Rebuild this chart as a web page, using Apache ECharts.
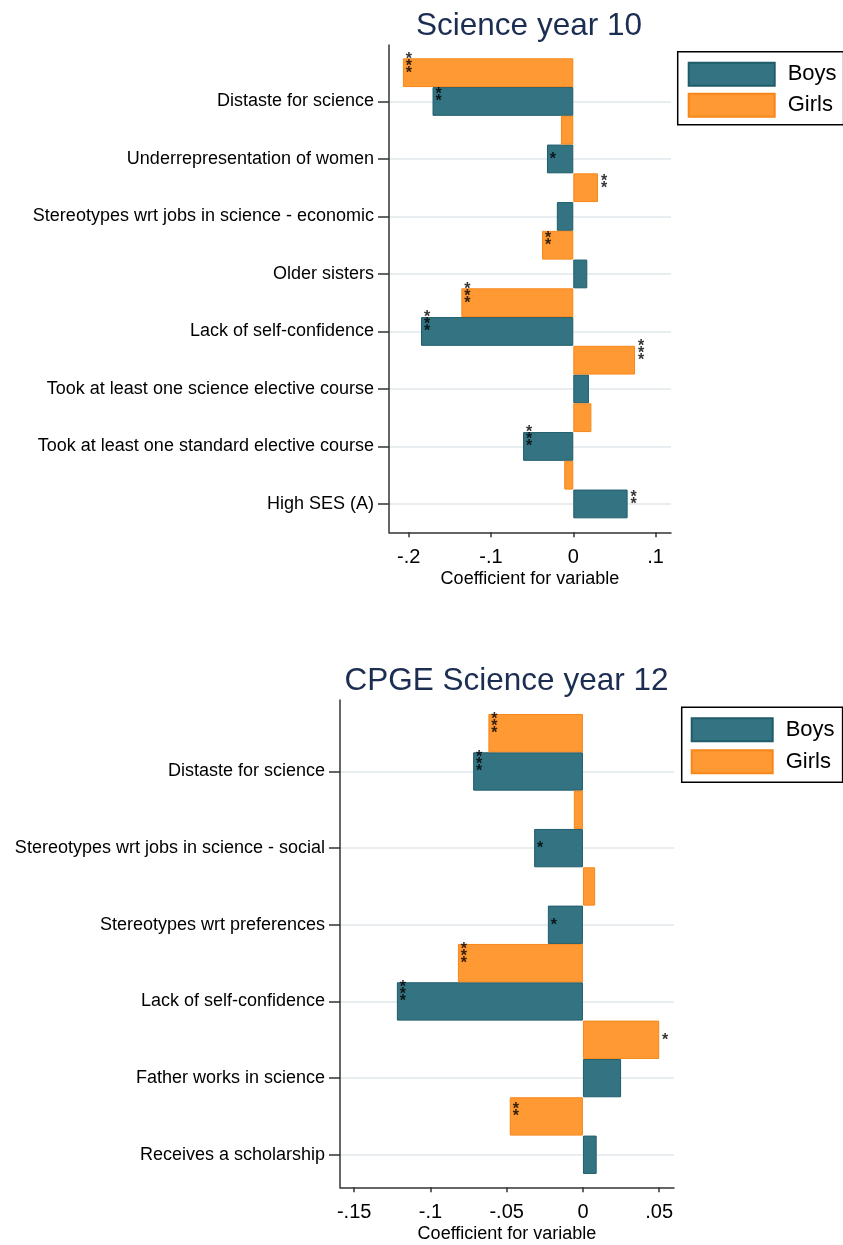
<!DOCTYPE html>
<html>
<head>
<meta charset="utf-8">
<script src="https://cdn.jsdelivr.net/npm/echarts@6/dist/echarts.min.js"></script>
<style>
html,body{margin:0;padding:0;background:#fff;}
#c{width:843px;height:1245px;}
</style>
</head>
<body>
<div id="c"></div>
<script>
// ---------- DATA ----------
const topTitle = 'Science year 10';
const topCategories = ['Distaste for science','Underrepresentation of women','Stereotypes wrt jobs in science - economic','Older sisters','Lack of self-confidence','Took at least one science elective course','Took at least one standard elective course','High SES (A)'];
const topBoys  = [-0.171,-0.032,-0.020, 0.017,-0.185, 0.019,-0.061, 0.066];
const topGirls = [-0.207,-0.015, 0.030,-0.038,-0.136, 0.075, 0.022,-0.011];
const topBoysStars  = ['**','*','','','***','','***','**'];
const topGirlsStars = ['***','','**','**','***','***','',''];
const topTickValues = [-0.2,-0.1,0,0.1];
const topTickLabels = ['-.2','-.1','0','.1'];

const botTitle = 'CPGE Science year 12';
const botCategories = ['Distaste for science','Stereotypes wrt jobs in science - social','Stereotypes wrt preferences','Lack of self-confidence','Father works in science','Receives a scholarship'];
const botBoys  = [-0.072,-0.032,-0.023,-0.122, 0.025, 0.009];
const botGirls = [-0.062,-0.006, 0.008,-0.082, 0.050,-0.048];
const botBoysStars  = ['***','*','*','***','',''];
const botGirlsStars = ['***','','','***','*','**'];
const botTickValues = [-0.15,-0.1,-0.05,0,0.05];
const botTickLabels = ['-.15','-.1','-.05','0','.05'];

const seriesNames = ['Boys','Girls'];
const axisTitle = 'Coefficient for variable';

// ---------- STYLE ----------
const FONT = '"Liberation Sans", Arial, Helvetica, sans-serif';
const TEAL = '#347482', TEAL_B = '#1f5c6a';
const ORANGE = '#fe9933', ORANGE_B = '#f7871a';
const AXIS = '#333333';
const GRIDC = '#e8eef0';

// slot layout: [pad, g0, b0, g1, b1, ..., pad]
function slots(n){ const s=[]; s.push('pad0'); for(let i=0;i<n;i++){s.push('g'+i); s.push('b'+i);} s.push('pad1'); return s; }
function boysArr(vals){ const a=new Array(vals.length*2+2).fill(null); vals.forEach((v,i)=>a[2+2*i]=v); return a; }
function girlsArr(vals){ const a=new Array(vals.length*2+2).fill(null); vals.forEach((v,i)=>a[1+2*i]=v); return a; }
function starData(bv,bs,gv,gs){
  const d=[];
  bv.forEach((v,i)=>{ if(bs[i]) d.push([v,2+2*i,bs[i]]); });
  gv.forEach((v,i)=>{ if(gs[i]) d.push([v,1+2*i,gs[i]]); });
  return d;
}
function isBoySlot(idx,n){ return idx>=2 && idx<=2*n && idx%2===0; }

function tickFmt(values, labels){ return function(v){ const i=values.findIndex(t=>Math.abs(t-v)<1e-9); return i>=0?labels[i]:''; }; }

const chart = echarts.init(document.getElementById('c'), null, {renderer:'canvas'});

const grids = [
  {left:389, width:282, top:45, height:487.3},           // top outer
  {left:389, width:282, top:43.95, height:488.75},       // top bars (18 cats, boundaryGap false)
  {left:340, width:334, top:700, height:487.3},          // bottom outer
  {left:340, width:334, top:694.8, height:498.3}         // bottom bars
];

function outerX(gi, min, max, vals, labs){
  return {
    type:'value', gridIndex:gi, min:min, max:max, position:'bottom',
    axisLine:{show:true, onZero:false, lineStyle:{color:AXIS, width:1.5}},
    axisTick:{show:true, length:5, customValues:vals, lineStyle:{color:AXIS, width:1.5}},
    axisLabel:{show:true, customValues:vals, formatter:tickFmt(vals,labs), fontFamily:FONT, fontSize:20, color:'#000', margin:15},
    splitLine:{show:false},
    name:axisTitle, nameLocation:'middle', nameGap:38,
    nameTextStyle:{fontFamily:FONT, fontSize:18, color:'#000'}
  };
}
function hiddenX(gi,min,max){ return {type:'value', gridIndex:gi, min:min, max:max, show:false}; }
function outerY(gi){
  return {type:'value', gridIndex:gi, min:0, max:1, position:'left',
    axisLine:{show:true, onZero:false, lineStyle:{color:AXIS, width:1.5}},
    axisTick:{show:false}, axisLabel:{show:false}, splitLine:{show:false}};
}
function catY(gi, cats){
  const n=cats.length;
  return {
    type:'category', gridIndex:gi, data:slots(n), inverse:true, boundaryGap:false, position:'left',
    axisLine:{show:false, onZero:false},
    axisTick:{show:true, length:11, interval:(idx)=>isBoySlot(idx,n), lineStyle:{color:AXIS, width:1.5}},
    axisLabel:{show:true, interval:(idx)=>isBoySlot(idx,n), margin:15,
      formatter:(v,idx)=> isBoySlot(idx,n)? cats[(idx-2)/2] : '',
      fontFamily:FONT, fontSize:18, color:'#000'},
    splitLine:{show:true, interval:(idx)=>isBoySlot(idx,n), lineStyle:{color:GRIDC, width:2}}
  };
}

function barSeries(name, xi, yi, data, color, border){
  return {type:'bar', name:name, xAxisIndex:xi, yAxisIndex:yi, data:data,
    barWidth:'100%', barGap:'-100%', barCategoryGap:0,
    itemStyle:{color:color, borderColor:border, borderWidth:1}, z:3};
}
function starSeries(xi, yi, data){
  return {type:'scatter', xAxisIndex:xi, yAxisIndex:yi, data:data, symbolSize:0.1,
    itemStyle:{color:'transparent'}, z:5,
    label:{show:true, position:'inside', align:'center', verticalAlign:'bottom', offset:[6,4],
      formatter:(p)=>p.data[2].split('').join('\n'), fontFamily:FONT, fontSize:16, fontWeight:'bold', lineHeight:7, color:'#000'}};
}

function legend(left, top, iw, ih, gap, pad, textPad){
  return {data:seriesNames, orient:'vertical', left:left, top:top, itemWidth:iw, itemHeight:ih, itemGap:gap,
    padding:pad, borderColor:'#000', borderWidth:1.5, backgroundColor:'#fff', icon:'rect',
    textStyle:{fontFamily:FONT, fontSize:22, lineHeight:22, color:'#000', padding:[0,0,0,textPad]}};
}

const option = {
  animation:false,
  backgroundColor:'#fff',
  title:[
    {text:topTitle, left:524, top:5, textAlign:'center', textStyle:{fontFamily:FONT, fontSize:31.5, fontWeight:'normal', color:'#1c2d52'}},
    {text:botTitle, left:501.5, top:660, textAlign:'center', textStyle:{fontFamily:FONT, fontSize:31.5, fontWeight:'normal', color:'#1c2d52'}}
  ],
  legend:[
    legend(677.7, 51.7, 86, 23, 6, [10,7,7,10], 8),
    legend(681.7, 707.3, 81, 23, 7, [10,8,8,9], 8)
  ],
  grid:grids,
  xAxis:[
    outerX(0, -0.2239, 0.1187, topTickValues, topTickLabels),
    hiddenX(1, -0.2239, 0.1187),
    outerX(2, -0.1593, 0.0597, botTickValues, botTickLabels),
    hiddenX(3, -0.1593, 0.0597)
  ],
  yAxis:[
    outerY(0),
    catY(1, topCategories),
    outerY(2),
    catY(3, botCategories)
  ],
  series:[
    barSeries(seriesNames[0], 1, 1, boysArr(topBoys), TEAL, TEAL_B),
    barSeries(seriesNames[1], 1, 1, girlsArr(topGirls), ORANGE, ORANGE_B),
    starSeries(1, 1, starData(topBoys, topBoysStars, topGirls, topGirlsStars)),
    barSeries(seriesNames[0], 3, 3, boysArr(botBoys), TEAL, TEAL_B),
    barSeries(seriesNames[1], 3, 3, girlsArr(botGirls), ORANGE, ORANGE_B),
    starSeries(3, 3, starData(botBoys, botBoysStars, botGirls, botGirlsStars))
  ]
};
chart.setOption(option);
</script>
</body>
</html>
